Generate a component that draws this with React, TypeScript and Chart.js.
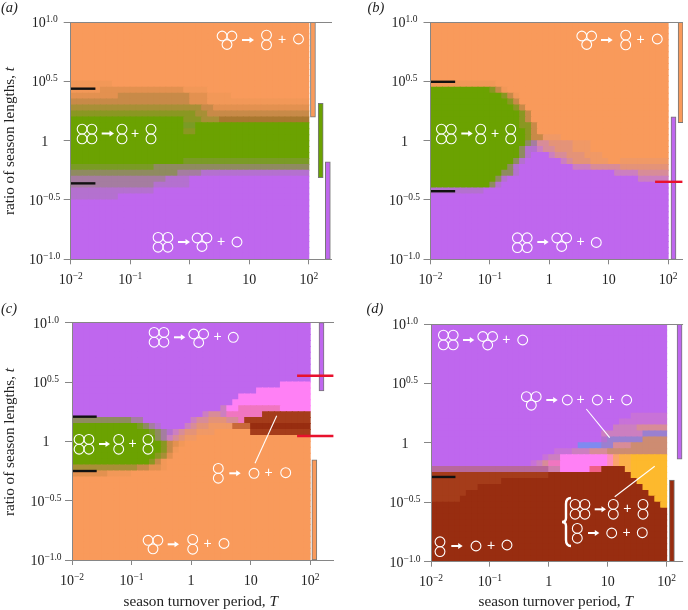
import React, { useEffect, useRef } from "react";
import { Chart, registerables } from "chart.js";

Chart.register(...registerables);

// ---------- data ----------
const xTickValues = [-2, -1, 0, 1, 2];
const xTickLabels = ["10^−2", "10^−1", "1", "10", "10^2"];
const yTickValues = [-1, -0.5, 0, 0.5, 1];
const yTickLabels = ["10^−1.0", "10^−0.5", "1", "10^0.5", "10^1.0"];
const xAxisTitle = "season turnover period, ";
const yAxisTitle = "ratio of season lengths, ";

const palette: Record<string, string> = {
  O: "#F99A5B", G: "#6BA201", P: "#BF67EE", Z: "#982D10", M: "#FF80F5", Y: "#FDB92D",
  A: "#F29858", B: "#E39150", C: "#C88A48", D: "#A88F36", E: "#8A9722", Q: "#A9782F",
  H: "#7A9B25", I: "#8F8B60", J: "#A57DA0", K: "#B471CF",
  a: "#F09966", b: "#E49378", c: "#D88C98", d: "#CC7FC0", e: "#C872D8",
  N: "#F076C0", X: "#A53C1A", T: "#C9693A", R: "#F06088",
  U: "#7F8AF0", V: "#9A80D0", W: "#CD8C72", f: "#FF8FB8", g: "#FBA46C", h: "#FBB04A",
  j: "#B8689C", k: "#D07FB0",
};

const panelARows = [
  "O", "O", "O", "O", "O", "O", "O", "O", "O", "O",
  "7A O", "5A 14B 4A O", "8B 12C 3B 4A O", "16C 4C 3B 17A", "19D 3D 2C 16B",
  "19E 2E 2D 2C 15C", "19G 3E 3D 15Q", "19G 2H 19G", "19G 2E 19G", "G",
  "G", "G", "G", "19G 21H", "14H 26I",
  "18I 4J 18K", "16J 4K P", "14J 6K P", "14K P", "8K P",
  "P", "P", "P", "P", "P", "P", "P", "P", "P", "P",
];

const panelBRows = [
  "O", "O", "O", "O", "O", "O", "O", "O", "O", "O",
  "11A O", "10G 1E 1C 1A O", "12G 1E 1C 1A O", "13G 1E 1C O", "14G 1E 1C O",
  "15G 1E 1C O", "15G 1E 1C O", "15G 2E 1C O", "16G 1E 1C O", "16G 1E 2C 3a O",
  "16G 1I 1J 2c 4b 3a O", "15G 1I 2K 1d 2c 3b 3a O", "15G 1I 1K 3P 1d 2c 3b 3a O",
  "14G 1I 1K 6P 1d 1c 3b 3a 2O 8a", "13G 1I 1K 9P 3d 5c 8b",
  "12G 2I 1K 16P 4d 5c", "11G 1I 1K 22P 5d", "10G 1I 1K P", "9K P", "P",
  "P", "P", "P", "P", "P", "P", "P", "P", "P", "P",
];

const panelCRows = [
  "P", "P", "P", "P", "P", "P", "P", "P", "P", "P",
  "35P 5M", "31P 9M", "28P 12M", "27P 13M", "25P 1d 2M 7N 5M",
  "22P 1d 2c 1d 6N 8X", "10I 2J 8P 1d 2c 3b 2c 1N 11X",
  "11G 1H 1I 1J 1K 4P 1d 1c 2b 4a 3T 10Z", "13G 1H 1I 1J 1K 1d 1c 2b 3a 6O 10X",
  "14G 1I 1J 1d 1c 1b 2a O",
  "15G 1E 1C 1B 1A O", "15G 1E 1C 1A O", "14G 1E 1D 1B O", "13G 1E 1C 1A O", "11D 2C 2B 1A O",
  "6B 4A O", "O", "O", "O", "O",
  "O", "O", "O", "O", "O", "O", "O", "O", "O", "O",
];

const panelDRows = [
  "P", "P", "P", "P", "P", "P", "P", "P", "P", "P",
  "P", "P", "P", "P", "P",
  "34P 6e", "32P 8e", "31P 4d 5c", "29P 7d 4V", "29P 1K 6V 4W",
  "25P 4U 2V 3c 6W", "21P 3e 3d 3c 10W", "19P 1e 2d 8M 1f 1g 2h 6Y",
  "17P 1e 1d 1c 2N 8M 1f 1g 2h 6Y", "20j 2k 5M 2R 4Z 1h 6Y",
  "20X 14Z 6Y", "12X 23Z 5Y", "8X 28Z 4Y", "6X 31Z 3Y", "5X 33Z 2Y",
  "39Z 1Y", "Z", "Z", "Z", "Z", "Z", "Z", "Z", "Z", "Z",
];

// side bars: x position (log10 T), lower and upper log10 t, colour key
const panelABars = [
  { x: 2.07, lo: 0.197, hi: 1, c: "O" },
  { x: 2.2, lo: -0.311, hi: 0.315, c: "G" },
  { x: 2.32, lo: -1, hi: -0.179, c: "P" },
];
const panelBBars = [
  { x: 2.09, lo: -1, hi: 0.2, c: "P" },
  { x: 2.21, lo: 0.151, hi: 1, c: "O" },
];
const panelCBars = [
  { x: 2.07, lo: -1, hi: -0.155, c: "O" },
  { x: 2.19, lo: 0.424, hi: 1, c: "P" },
];
const panelDBars = [
  { x: 2.09, lo: -1, hi: -0.313, c: "Z" },
  { x: 2.22, lo: -0.138, hi: 1, c: "P" },
];

// threshold marks: log10 t values
const panelABlack = [0.438, -0.36];
const panelBBlack = [0.496, -0.426];
const panelBRed = [-0.347];
const panelCBlack = [0.208, -0.25];
const panelCRed = [0.553, 0.045];
const panelDBlack = [-0.287];

// diagram annotations
type Ann = [string, number, number, number?, number?];
const panelAAnn: Ann[] = [
  ["T", 227, 40], ["A", 242, 40, 254], ["D", 266.5, 40], ["+", 282, 40], ["S", 298.5, 39],
  ["Q", 87, 134], ["A", 101.7, 133.5, 114], ["D", 122, 134], ["+", 135, 134], ["D", 151, 134],
  ["Q", 163, 242.3], ["A", 178, 242, 190], ["T", 202, 242], ["+", 221, 242], ["S", 237, 242],
];
const panelBAnn: Ann[] = [
  ["T", 242.7, 40], ["A", 257, 40, 268.7], ["D", 281.7, 40], ["+", 296.7, 40], ["S", 313.3, 39],
  ["Q", 102.3, 134], ["A", 117.3, 133.5, 128.7], ["D", 136.7, 134], ["+", 151, 134], ["D", 166.7, 134],
  ["Q", 178.3, 242.7], ["A", 193.3, 242, 204.7], ["T", 217.7, 242], ["+", 236.7, 242], ["S", 252.3, 242.5],
];
const panelCAnn: Ann[] = [
  ["Q", 159, 32.3], ["A", 174, 32.3, 185.3], ["T", 198.7, 33], ["+", 217.7, 32.3], ["S", 233.3, 32.3],
  ["Q", 84, 139.3], ["A", 99, 139, 110], ["D", 118.7, 139.3], ["+", 132.7, 139], ["D", 148, 139.3],
  ["D", 218.3, 168.3], ["A", 229.3, 168.3, 240.7], ["S", 254, 168.3], ["+", 268.7, 168], ["S", 285.7, 167.7],
  ["T", 153, 239.3], ["A", 167.7, 239.3, 179], ["D", 192.7, 239.3], ["+", 207.7, 239], ["S", 224, 238.5],
  ["L", 255, 158.3, 276.7, 110.7],
];
const panelDAnn: Ann[] = [
  ["Q", 104.3, 35], ["A", 119, 35, 130.3], ["T", 143.7, 35.5], ["+", 162.3, 35], ["S", 178.7, 35],
  ["T", 187.3, 95.7], ["A", 202.3, 95, 213.7], ["S", 223.3, 95], ["+", 236.7, 95], ["S", 253.3, 95], ["+", 266.7, 95], ["S", 282.7, 95],
  ["L", 242.3, 104, 265.7, 132.7],
  ["L", 310.7, 161.3, 270.7, 191.7],
  ["Q", 236, 204.3], ["A", 250.7, 204.3, 262], ["D", 269.3, 204.3], ["+", 283.3, 204.3], ["D", 299, 204.3],
  ["D", 233.3, 228.3], ["A", 244, 228, 255.3], ["S", 267.7, 228], ["+", 282.7, 228], ["S", 298.3, 227.7],
  ["D", 96, 241.7], ["A", 107.3, 241, 118.7], ["S", 132, 241], ["+", 147, 241], ["S", 163, 240],
  ["B", 224, 193, 241],
];

// ---------- panel configuration ----------
type PanelCfg = {
  letter: string; letterX: number; letterY: number;
  left: number; top: number; bottom: number; end: number; xMax: number;
  canvasLeft: number; canvasTop: number; dy: number;
  rows: string[]; bars: { x: number; lo: number; hi: number; c: string }[];
  black: number[]; red: number[]; ann: Ann[];
  yTitleY?: number; xTitleX?: number;
};

const panels: PanelCfg[] = [
  { letter: "(a)", letterX: 1, letterY: 12, left: 70.7, top: 22, bottom: 259.3, end: 332, xMax: 2.39,
    canvasLeft: 0, canvasTop: 0, dy: 0, rows: panelARows, bars: panelABars, black: panelABlack, red: [], ann: panelAAnn, yTitleY: 141 },
  { letter: "(b)", letterX: 23.5, letterY: 12, left: 86.5, top: 22, bottom: 259.3, end: 339, xMax: 2.25,
    canvasLeft: 344, canvasTop: 0, dy: 0, rows: panelBRows, bars: panelBBars, black: panelBBlack, red: panelBRed, ann: panelBAnn },
  { letter: "(c)", letterX: 1, letterY: 8, left: 72, top: 17.7, bottom: 255, end: 334, xMax: 2.4,
    canvasLeft: 0, canvasTop: 295, dy: 10, rows: panelCRows, bars: panelCBars, black: panelCBlack, red: panelCRed, ann: panelCAnn, yTitleY: 137, xTitleX: 200.7 },
  { letter: "(d)", letterX: 22.5, letterY: 8, left: 87, top: 19, bottom: 256.7, end: 341.7, xMax: 2.28,
    canvasLeft: 344, canvasTop: 295, dy: 10, rows: panelDRows, bars: panelDBars, black: panelDBlack, red: [], ann: panelDAnn, xTitleX: 211.7 },
];

const SERIF = "'Liberation Serif', serif";
const AXIS = "#868686";
const CANVAS_W = 344;
const TITLE_FONT = 15.2;

function decodeRow(row: string): string[] {
  const out: string[] = [];
  for (const tok of row.split(" ")) {
    const m = tok.match(/^(\d*)(.)$/)!;
    const n = m[1] ? parseInt(m[1], 10) : 40 - out.length;
    for (let i = 0; i < n; i++) out.push(m[2]);
  }
  return out;
}

function drawPower(ctx: CanvasRenderingContext2D, label: string, cx: number, baseline: number) {
  const [base, exp] = label.split("^");
  ctx.textAlign = "left";
  ctx.textBaseline = "alphabetic";
  ctx.fillStyle = "#222";
  ctx.font = `14px ${SERIF}`;
  const bw = ctx.measureText(base).width;
  ctx.font = `9.5px ${SERIF}`;
  const ew = exp ? ctx.measureText(exp).width : 0;
  const x0 = cx - (bw + ew) / 2;
  ctx.font = `14px ${SERIF}`;
  ctx.fillText(base, x0, baseline);
  if (exp) {
    ctx.font = `9.5px ${SERIF}`;
    ctx.fillText(exp, x0 + bw, baseline - 5);
  }
}

function drawMixedTitle(ctx: CanvasRenderingContext2D, text: string, italic: string, cx: number, baseline: number) {
  ctx.textAlign = "left";
  ctx.textBaseline = "alphabetic";
  ctx.fillStyle = "#222";
  ctx.font = `${TITLE_FONT}px ${SERIF}`;
  const w1 = ctx.measureText(text).width;
  ctx.font = `italic ${TITLE_FONT}px ${SERIF}`;
  const w2 = ctx.measureText(italic).width;
  const x0 = cx - (w1 + w2) / 2;
  ctx.font = `${TITLE_FONT}px ${SERIF}`;
  ctx.fillText(text, x0, baseline);
  ctx.font = `italic ${TITLE_FONT}px ${SERIF}`;
  ctx.fillText(italic, x0 + w1, baseline);
}

function circle(ctx: CanvasRenderingContext2D, x: number, y: number) {
  ctx.beginPath();
  ctx.arc(x, y, 4.9, 0, Math.PI * 2);
  ctx.stroke();
}

function drawAnnotations(ctx: CanvasRenderingContext2D, ann: Ann[]) {
  ctx.strokeStyle = "#fff";
  ctx.fillStyle = "#fff";
  ctx.lineWidth = 1.1;
  for (const [kind, x, y, p, q] of ann) {
    if (kind === "S") circle(ctx, x, y);
    else if (kind === "D") { circle(ctx, x, y - 4.9); circle(ctx, x, y + 4.9); }
    else if (kind === "Q") {
      circle(ctx, x - 4.9, y - 4.9); circle(ctx, x + 4.9, y - 4.9);
      circle(ctx, x - 4.9, y + 4.9); circle(ctx, x + 4.9, y + 4.9);
    } else if (kind === "T") {
      circle(ctx, x - 4.9, y - 4); circle(ctx, x + 4.9, y - 4); circle(ctx, x, y + 4.5);
    } else if (kind === "A") {
      ctx.save();
      ctx.lineWidth = 2;
      ctx.beginPath(); ctx.moveTo(x, y); ctx.lineTo((p as number) - 3, y); ctx.stroke();
      ctx.beginPath(); ctx.moveTo(p as number, y); ctx.lineTo((p as number) - 4.5, y - 3); ctx.lineTo((p as number) - 4.5, y + 3); ctx.closePath(); ctx.fill();
      ctx.restore();
    } else if (kind === "+") {
      ctx.font = `14px 'Liberation Sans', sans-serif`;
      ctx.textAlign = "center";
      ctx.textBaseline = "middle";
      ctx.fillText("+", x, y);
    } else if (kind === "L") {
      ctx.beginPath(); ctx.moveTo(x, y); ctx.lineTo(p as number, q as number); ctx.stroke();
    } else if (kind === "B") {
      const y0 = y, y1 = p as number, ym = (y0 + y1) / 2;
      ctx.save();
      ctx.lineWidth = 2.4;
      ctx.beginPath();
      ctx.moveTo(x + 3, y0);
      ctx.quadraticCurveTo(x - 2, y0, x - 2, y0 + 6);
      ctx.lineTo(x - 2, ym - 4);
      ctx.quadraticCurveTo(x - 2, ym, x - 6, ym);
      ctx.quadraticCurveTo(x - 2, ym, x - 2, ym + 4);
      ctx.lineTo(x - 2, y1 - 6);
      ctx.quadraticCurveTo(x - 2, y1, x + 3, y1);
      ctx.stroke();
      ctx.restore();
    }
  }
}

function buildChart(canvas: HTMLCanvasElement, p: PanelCfg) {
  const cellPts: { x: number; y: number }[] = [];
  const cellCols: string[] = [];
  p.rows.forEach((row, r) => {
    decodeRow(row).forEach((k, c) => {
      cellPts.push({ x: -2 + (c + 0.5) * 0.1, y: 1 - (r + 0.5) * 0.05 });
      cellCols.push(palette[k]);
    });
  });
  const height = 305 + p.dy;
  const topPx = p.top + p.dy;
  const bottomPx = p.bottom + p.dy;
  const cellPx = (p.bottom - p.top) / 40;

  const markLines = (vals: number[], color: string, x0: number, x1: number) =>
    vals.map((v) => ({
      type: "scatter" as const,
      showLine: true,
      data: [{ x: x0, y: v }, { x: x1, y: v }],
      borderColor: color,
      borderWidth: 2.4,
      pointRadius: 0,
      order: 0,
      clip: false as const,
    }));

  const plugin = {
    id: "panelDecor" + p.letter,
    afterDatasetsDraw(chart: any) {
      const ctx: CanvasRenderingContext2D = chart.ctx;
      ctx.save();
      ctx.translate(0, p.dy);
      drawAnnotations(ctx, p.ann);
      ctx.restore();
    },
    afterDraw(chart: any) {
      const ctx: CanvasRenderingContext2D = chart.ctx;
      const sx = chart.scales.x, sy = chart.scales.y;
      ctx.save();
      sx.ticks.forEach((t: any) => drawPower(ctx, t.label, sx.getPixelForValue(t.value), bottomPx + 24.5));
      sy.ticks.forEach((t: any) => drawPower(ctx, t.label, p.left - 26, sy.getPixelForValue(t.value) + 5));
      ctx.fillStyle = "#222";
      ctx.font = `italic 14.5px ${SERIF}`;
      ctx.textAlign = "left";
      ctx.textBaseline = "alphabetic";
      ctx.fillText(p.letter, p.letterX, p.letterY + p.dy);
      if (p.xTitleX !== undefined) drawMixedTitle(ctx, xAxisTitle, "T", p.xTitleX, 300.5 + p.dy);
      if (p.yTitleY !== undefined) {
        ctx.save();
        ctx.translate(14, p.yTitleY + p.dy);
        ctx.rotate(-Math.PI / 2);
        drawMixedTitle(ctx, yAxisTitle, "t", 0, 0);
        ctx.restore();
      }
      ctx.restore();
    },
  };

  return new Chart(canvas, {
    type: "scatter",
    data: {
      datasets: [
        ...markLines(p.black, "#111", -2, -1.585),
        ...markLines(p.red, "#E8112D", 1.78, p.xMax - 0.01),
        {
          type: "bar",
          data: p.bars.map((b) => ({ x: b.x, y: [b.lo, b.hi] })),
          backgroundColor: p.bars.map((b) => palette[b.c]),
          borderColor: "#777",
          borderWidth: 1,
          borderSkipped: false,
          barThickness: 5,
          order: 1,
        } as any,
        {
          type: "scatter",
          data: cellPts,
          showLine: false,
          parsing: false,
          normalized: true,
          pointStyle: "rect",
          pointRadius: (cellPx + 1) / Math.SQRT2,
          pointBorderWidth: 0,
          pointBackgroundColor: cellCols,
          order: 2,
        } as any,
      ],
    },
    options: {
      responsive: false,
      animation: false,
      devicePixelRatio: 1,
      events: [],
      layout: { padding: { left: 0, top: topPx, right: CANVAS_W - p.end, bottom: 0 } },
      plugins: { legend: { display: false }, tooltip: { enabled: false }, title: { display: false } },
      scales: {
        x: {
          type: "linear",
          offset: false,
          min: -2,
          max: p.xMax,
          grid: {
            offset: false, z: 1, tickLength: 5, tickColor: AXIS,
            color: (c: any) => (c.tick && c.tick.value === -2 ? AXIS : "rgba(0,0,0,0)"),
          },
          border: { display: false },
          ticks: { display: false, autoSkip: false, callback: (v: any) => xTickLabels[xTickValues.indexOf(Number(v))] ?? "" },
          afterBuildTicks: (s: any) => { s.ticks = xTickValues.map((v) => ({ value: v })); },
          afterFit: (s: any) => { s.height = height - bottomPx; },
        },
        y: {
          type: "linear",
          min: -1,
          max: 1,
          grid: {
            z: 1,
            tickLength: 7,
            tickColor: AXIS,
            color: (c: any) => (c.tick && Math.abs(c.tick.value) === 1 ? AXIS : "rgba(0,0,0,0)"),
          },
          border: { display: false },
          ticks: { display: false, autoSkip: false, callback: (v: any) => yTickLabels[yTickValues.indexOf(Number(v))] ?? "" },
          afterBuildTicks: (s: any) => { s.ticks = yTickValues.map((v) => ({ value: v })); },
          afterFit: (s: any) => { s.width = p.left; },
        },
      },
    } as any,
    plugins: [plugin],
  });
}

function Panel({ cfg }: { cfg: PanelCfg }) {
  const ref = useRef<HTMLCanvasElement>(null);
  useEffect(() => {
    const chart = buildChart(ref.current!, cfg);
    return () => chart.destroy();
  }, [cfg]);
  return (
    <canvas
      ref={ref}
      width={CANVAS_W}
      height={305 + cfg.dy}
      style={{ position: "absolute", left: cfg.canvasLeft, top: cfg.canvasTop, width: CANVAS_W, height: 305 + cfg.dy, filter: "blur(0.4px)" }}
    />
  );
}

export default function App() {
  return (
    <div style={{ position: "absolute", left: 0, top: 0, width: 688, height: 610, background: "#fff", overflow: "hidden" }}>
      {panels.map((p) => (
        <Panel key={p.letter} cfg={p} />
      ))}
    </div>
  );
}
